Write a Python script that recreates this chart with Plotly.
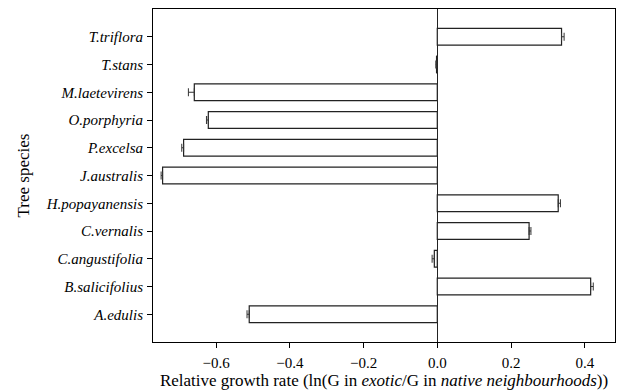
import plotly.graph_objects as go

species = ["A.edulis", "B.salicifolius", "C.angustifolia", "C.vernalis", "H.popayanensis",
           "J.australis", "P.excelsa", "O.porphyria", "M.laetevirens", "T.stans", "T.triflora"]
values = [-0.510, 0.416, -0.008, 0.249, 0.328, -0.745, -0.688, -0.621, -0.659, -0.002, 0.337]
errors = [0.006, 0.007, 0.006, 0.005, 0.006, 0.004, 0.005, 0.005, 0.016, 0.002, 0.007]
x_ticks = [-0.6, -0.4, -0.2, 0.0, 0.2, 0.4]
x_ticklabels = ["\u22120.6", "\u22120.4", "\u22120.2", "0.0", "0.2", "0.4"]

err_plus = [e if v >= 0 else 0 for v, e in zip(values, errors)]
err_minus = [e if v < 0 else 0 for v, e in zip(values, errors)]

fig = go.Figure(go.Bar(
    x=values, y=species, orientation="h", width=0.6,
    marker=dict(color="white", line=dict(color="#222", width=1.2)),
    error_x=dict(type="data", symmetric=False, array=err_plus, arrayminus=err_minus,
                 color="#333", thickness=1, width=4),
))

serif = "Liberation Serif"
fig.update_layout(
    width=621, height=390, margin=dict(l=153, r=6, t=9, b=48),
    plot_bgcolor="white", paper_bgcolor="white", showlegend=False,
    font=dict(family=serif, color="black", size=15),
    xaxis=dict(range=[-0.771, 0.482], tickvals=x_ticks, ticktext=x_ticklabels,
               automargin=False,
               showgrid=False, zeroline=True, zerolinecolor="#222", zerolinewidth=1,
               showline=True, mirror=True, linecolor="black", linewidth=1,
               ticks="outside", ticklen=5, tickcolor="black", ticklabelstandoff=2,
               tickfont=dict(family=serif, size=15),
               title=dict(text="Relative growth rate (ln(G in <i>exotic</i>/G in <i>native neighbourhoods</i>))",
                          font=dict(family=serif, size=17), standoff=7)),
    yaxis=dict(categoryorder="array", categoryarray=species, range=[-1, 11],
               automargin=False,
               showgrid=False, showline=True, mirror=True, linecolor="black", linewidth=1,
               ticks="outside", ticklen=5, tickcolor="black", ticklabelstandoff=1,
               tickfont=dict(family=serif, size=15, style="italic"),
               title=dict(text="Tree species", font=dict(family=serif, size=17), standoff=11)),
)
fig.write_html("out.html")
